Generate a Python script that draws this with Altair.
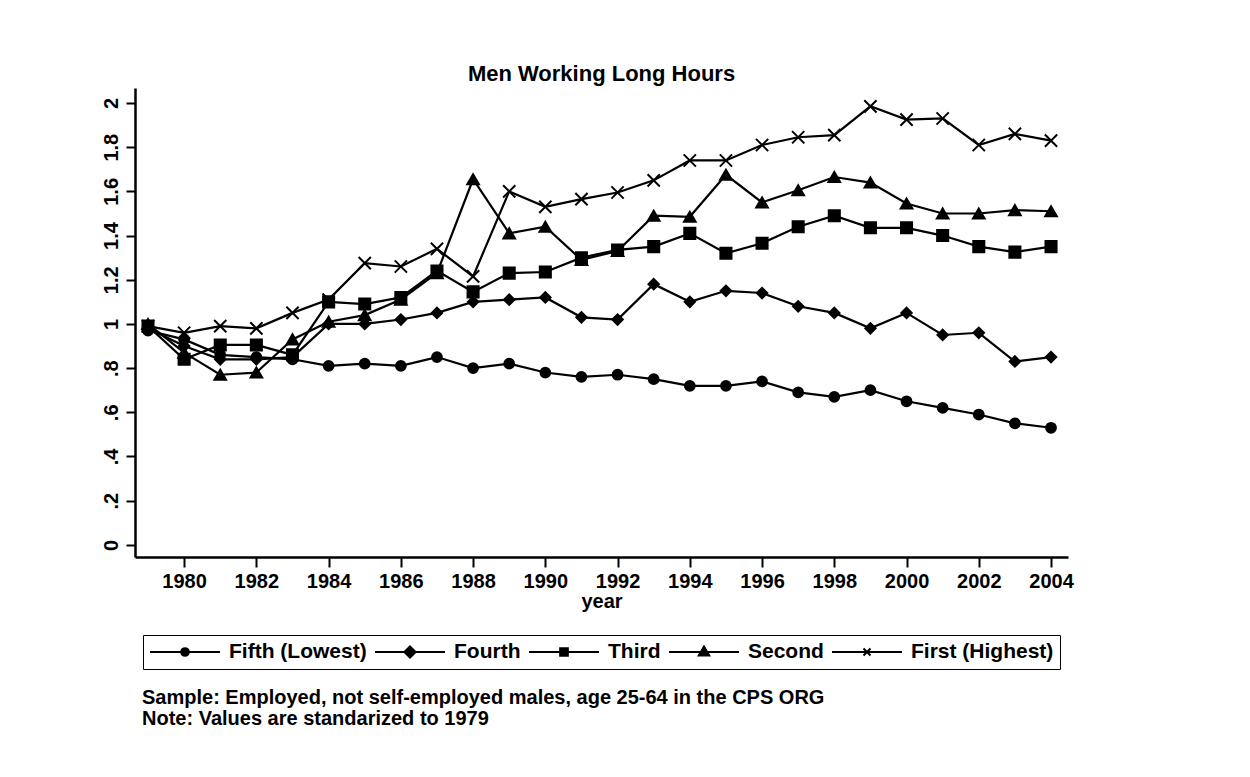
import altair as alt
import pandas as pd

years = [1979, 1980, 1981, 1982, 1983, 1984, 1985, 1986, 1987, 1988, 1989, 1990, 1991,
         1992, 1993, 1994, 1995, 1996, 1997, 1998, 1999, 2000, 2001, 2002, 2003, 2004]

series_names = ["Fifth (Lowest)", "Fourth", "Third", "Second", "First (Highest)"]

fifth = [0.97, 0.93, 0.86, 0.85, 0.84, 0.81, 0.82, 0.81, 0.85, 0.80, 0.82, 0.78, 0.76,
         0.77, 0.75, 0.72, 0.72, 0.74, 0.69, 0.67, 0.70, 0.65, 0.62, 0.59, 0.55, 0.53]
fourth = [0.98, 0.90, 0.84, 0.84, 0.85, 1.00, 1.00, 1.02, 1.05, 1.10, 1.11, 1.12, 1.03,
          1.02, 1.18, 1.10, 1.15, 1.14, 1.08, 1.05, 0.98, 1.05, 0.95, 0.96, 0.83, 0.85]
third = [0.99, 0.84, 0.905, 0.905, 0.86, 1.10, 1.09, 1.12, 1.24, 1.145, 1.23, 1.235, 1.30,
         1.335, 1.35, 1.41, 1.32, 1.365, 1.44, 1.49, 1.435, 1.435, 1.40, 1.35, 1.325, 1.35]
second = [1.00, 0.87, 0.77, 0.78, 0.93, 1.01, 1.04, 1.11, 1.23, 1.655, 1.41, 1.44, 1.29,
          1.33, 1.49, 1.485, 1.675, 1.55, 1.605, 1.665, 1.64, 1.545, 1.50, 1.50, 1.515, 1.51]
first = [0.99, 0.96, 0.99, 0.98, 1.05, 1.11, 1.275, 1.26, 1.34, 1.215, 1.60, 1.53, 1.565,
         1.595, 1.65, 1.74, 1.74, 1.81, 1.845, 1.855, 1.985, 1.925, 1.93, 1.81, 1.86, 1.83]

x_ticks = [1980, 1982, 1984, 1986, 1988, 1990, 1992, 1994, 1996, 1998, 2000, 2002, 2004]
y_ticks = [0, 0.2, 0.4, 0.6, 0.8, 1, 1.2, 1.4, 1.6, 1.8, 2]

title_text = "Men Working Long Hours"
notes = ["Sample: Employed, not self-employed males, age 25-64 in the CPS ORG",
         "Note: Values are standarized to 1979"]

rows = []
for name, vals in zip(series_names, [fifth, fourth, third, second, first]):
    for yr, v in zip(years, vals):
        rows.append({"year": yr, "value": v, "series": name})
df = pd.DataFrame(rows)

FONT = "Liberation Sans"

x_enc = alt.X("year:Q",
              scale=alt.Scale(domain=[1978.64, 2004.47], nice=False, zero=False),
              axis=alt.Axis(values=x_ticks, format="d", title="year", grid=False,
                            tickSize=10, tickWidth=2, domainWidth=2.5, labelPadding=4,
                            titlePadding=0))
y_enc = alt.Y("value:Q",
              scale=alt.Scale(domain=[-0.055, 2.068], nice=False, zero=False),
              axis=alt.Axis(values=y_ticks, title=None, grid=False, labelAngle=270,
                            labelAlign="center", labelBaseline="bottom",
                            tickSize=9, tickWidth=2, domainWidth=2.5, labelPadding=5,
                            labelExpr="datum.value > 0 && datum.value < 1 ? slice(format(datum.value, '.1f'), 1) : format(datum.value, '~g')"))

lines = alt.Chart(df).mark_line(color="black", strokeWidth=2.2).encode(
    x=x_enc, y=y_enc, detail="series:N"
)

marker_shapes = ["circle", "diamond", "square", "triangle-up", "M-1,-1L1,1M-1,1L1,-1"]
marker_sizes = [95, 150, 105, 135, 90]

points = alt.Chart(df).mark_point(filled=True, fill="black", stroke="black",
                                  strokeWidth=2, opacity=1).encode(
    x=x_enc, y=y_enc,
    shape=alt.Shape("series:N", scale=alt.Scale(domain=series_names, range=marker_shapes),
                    legend=None),
    size=alt.Size("series:N", scale=alt.Scale(domain=series_names, range=marker_sizes),
                  legend=None),
)

legend_shapes = [
    "M-1,0L1,0M0.11,0A0.11,0.11,0,1,1,-0.11,0A0.11,0.11,0,1,1,0.11,0Z",
    "M-1,0L1,0M0,-0.16L0.16,0L0,0.16L-0.16,0Z",
    "M-1,0L1,0M-0.11,-0.11L0.11,-0.11L0.11,0.11L-0.11,0.11Z",
    "M-1,0L1,0M0,-0.16L0.15,0.1L-0.15,0.1Z",
    "M-1,0L1,0M-0.1,-0.1L0.1,0.1M-0.1,0.1L0.1,-0.1",
]

legend_layer = alt.Chart(df).mark_point(filled=True, fill="black", stroke="black",
                                        strokeWidth=2, opacity=0).encode(
    x=x_enc, y=y_enc,
    shape=alt.Shape("series:N",
                    scale=alt.Scale(domain=series_names, range=legend_shapes),
                    legend=alt.Legend(title=None, orient="none", legendX=8, legendY=547,
                                      direction="horizontal", columns=5,
                                      padding=6, strokeColor="black",
                                      symbolSize=4900, symbolStrokeWidth=2,
                                      symbolOpacity=1, clipHeight=22,
                                      labelFont=FONT, labelFontSize=21,
                                      labelFontWeight="bold", labelColor="black",
                                      labelOffset=8, columnPadding=7)),
)

notes_df = pd.DataFrame({"note": ["\n".join(notes)]})
notes_layer = alt.Chart(notes_df).mark_text(
    align="left", baseline="top", lineBreak="\n", lineHeight=21,
    font=FONT, fontSize=20, fontWeight="bold", color="black"
).encode(text="note:N", x=alt.value(7), y=alt.value(600))

chart = alt.layer(lines, points, legend_layer, notes_layer).resolve_scale(
    shape="independent"
).properties(
    width=933, height=469,
    background="white",
    autosize=alt.AutoSizeParams(type="none"),
    padding={"left": 127, "top": 80, "right": 174, "bottom": 212},
    title=alt.TitleParams(title_text, font=FONT, fontSize=22, fontWeight="bold",
                          anchor="middle", frame="group", offset=8, dy=23,
                          baseline="alphabetic", color="black"),
).configure_view(stroke=None).configure_axis(
    labelFont=FONT, labelFontSize=20, labelFontWeight="bold", labelColor="black",
    titleFont=FONT, titleFontSize=20, titleFontWeight="bold", titleColor="black",
    domainColor="black", tickColor="black"
)

chart.save("out.html", embed_options={"renderer": "svg", "actions": False})
